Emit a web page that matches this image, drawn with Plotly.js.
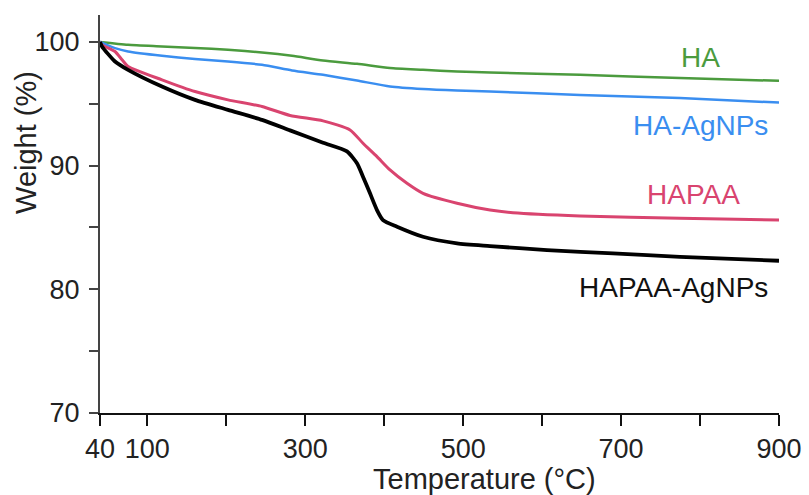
<!DOCTYPE html>
<html>
<head>
<meta charset="utf-8">
<script src="https://cdn.plot.ly/plotly-3.0.1.min.js"></script>
<style>html,body{margin:0;padding:0;background:#fff;}#chart{width:809px;height:495px;}</style>
</head>
<body>
<div id="chart"></div>
<script>
// Temperature (°C) and weight (%)
const haT = [40, 75.5, 118.5, 160.3, 202.1, 245.2, 283.2, 322.5, 365.5, 407.3, 449.1, 492.2, 534, 648, 774.6, 900];
const haW = [100, 99.77, 99.64, 99.51, 99.37, 99.15, 98.88, 98.5, 98.23, 97.89, 97.75, 97.61, 97.53, 97.34, 97.08, 96.86];

const haAgT = [40, 59, 75.5, 118.5, 160.3, 202.1, 245.2, 283.2, 322.5, 365.5, 407.3, 449.1, 492.2, 534, 648, 774.6, 900];
const haAgW = [100, 99.5, 99.23, 98.88, 98.62, 98.42, 98.15, 97.69, 97.34, 96.88, 96.4, 96.19, 96.07, 95.99, 95.72, 95.46, 95.1];

const hapaaT = [40, 42.5, 59, 67.9, 75.5, 118.5, 160.3, 202.1, 245.2, 280.7, 322.5, 356.7, 373.1, 390.8, 407.3, 428.8, 449.1, 492.2, 534, 563.1, 648, 774.6, 900];
const hapaaW = [100, 99.77, 99.23, 98.56, 98.02, 96.94, 95.99, 95.32, 94.78, 94.06, 93.62, 92.89, 91.81, 90.73, 89.65, 88.57, 87.76, 86.96, 86.41, 86.19, 85.93, 85.74, 85.6];

const hapaaAgT = [40, 42.5, 59, 75.5, 118.5, 160.3, 202.1, 245.2, 280.7, 322.5, 352.8, 365.5, 373.1, 382, 390.8, 398.4, 416.2, 449.1, 492.2, 534, 606.2, 689.8, 774.6, 900];
const hapaaAgW = [100, 99.64, 98.42, 97.75, 96.4, 95.32, 94.51, 93.7, 92.85, 91.85, 91.15, 90.19, 89.11, 87.76, 86.41, 85.6, 85.06, 84.25, 83.72, 83.5, 83.17, 82.91, 82.63, 82.31];

const seriesNames = ["HA", "HA-AgNPs", "HAPAA", "HAPAA-AgNPs"];

const xTickVals = [40, 100, 200, 300, 400, 500, 600, 700, 800, 900];
const xTickText = ["40", "100", "", "300", "", "500", "", "700", "", "900"];
const yTickVals = [70, 75, 80, 85, 90, 95, 100];
const yTickText = ["70", "", "80", "", "90", "", "100"];

const FONT = "Liberation Sans, Arial, sans-serif";

const traces = [
  {x: haT, y: haW, name: seriesNames[0], mode: "lines", line: {color: "#4b9b3e", width: 2.5, shape: "spline", smoothing: 0.6}},
  {x: haAgT, y: haAgW, name: seriesNames[1], mode: "lines", line: {color: "#3a8ef0", width: 2.5, shape: "spline", smoothing: 0.6}},
  {x: hapaaT, y: hapaaW, name: seriesNames[2], mode: "lines", line: {color: "#d9446f", width: 3, shape: "spline", smoothing: 0.6}},
  {x: hapaaAgT, y: hapaaAgW, name: seriesNames[3], mode: "lines", line: {color: "#000000", width: 3.8, shape: "spline", smoothing: 0.6}}
];

const layout = {
  width: 809, height: 495,
  margin: {l: 100, r: 30, t: 15, b: 82},
  paper_bgcolor: "#fff", plot_bgcolor: "#fff",
  showlegend: false,
  font: {family: FONT, size: 27, color: "#222"},
  xaxis: {
    range: [40, 900], tickmode: "array", tickvals: xTickVals, ticktext: xTickText,
    ticks: "outside", ticklen: 11, tickwidth: 2, tickcolor: "#111",
    showline: true, linecolor: "#111", linewidth: 2, showgrid: false, zeroline: false,
    tickfont: {family: FONT, size: 27, color: "#222"}
  },
  yaxis: {
    range: [70, 102.18], tickmode: "array", tickvals: yTickVals, ticktext: yTickText,
    ticks: "outside", ticklen: 9, tickwidth: 2, tickcolor: "#444",
    showline: true, linecolor: "#444", linewidth: 2, showgrid: false, zeroline: false,
    ticklabelstandoff: 4,
    tickfont: {family: FONT, size: 27, color: "#222"}
  },
  annotations: [
    {x: 800, y: 98.72, xref: "x", yref: "y", text: "HA", showarrow: false, font: {family: FONT, size: 28, color: "#4b9b3e"}},
    {x: 801, y: 93.21, xref: "x", yref: "y", text: "HA-AgNPs", showarrow: false, font: {family: FONT, size: 28, color: "#3a8ef0"}},
    {x: 792, y: 87.63, xref: "x", yref: "y", text: "HAPAA", showarrow: false, font: {family: FONT, size: 28, color: "#d9446f"}},
    {x: 767, y: 80.18, xref: "x", yref: "y", text: "HAPAA-AgNPs", showarrow: false, font: {family: FONT, size: 28, color: "#111"}},
    {x: -0.109, y: 0.681, xref: "paper", yref: "paper", text: "Weight (%)", textangle: -90, showarrow: false,
     xanchor: "center", yanchor: "middle", font: {family: FONT, size: 29, color: "#222"}},
    {x: 0.567, y: -0.165, xref: "paper", yref: "paper", text: "Temperature (°C)", showarrow: false,
     xanchor: "center", yanchor: "middle", font: {family: FONT, size: 29, color: "#222"}}
  ]
};

Plotly.newPlot("chart", traces, layout, {displayModeBar: false, staticPlot: true});
</script>
</body>
</html>
